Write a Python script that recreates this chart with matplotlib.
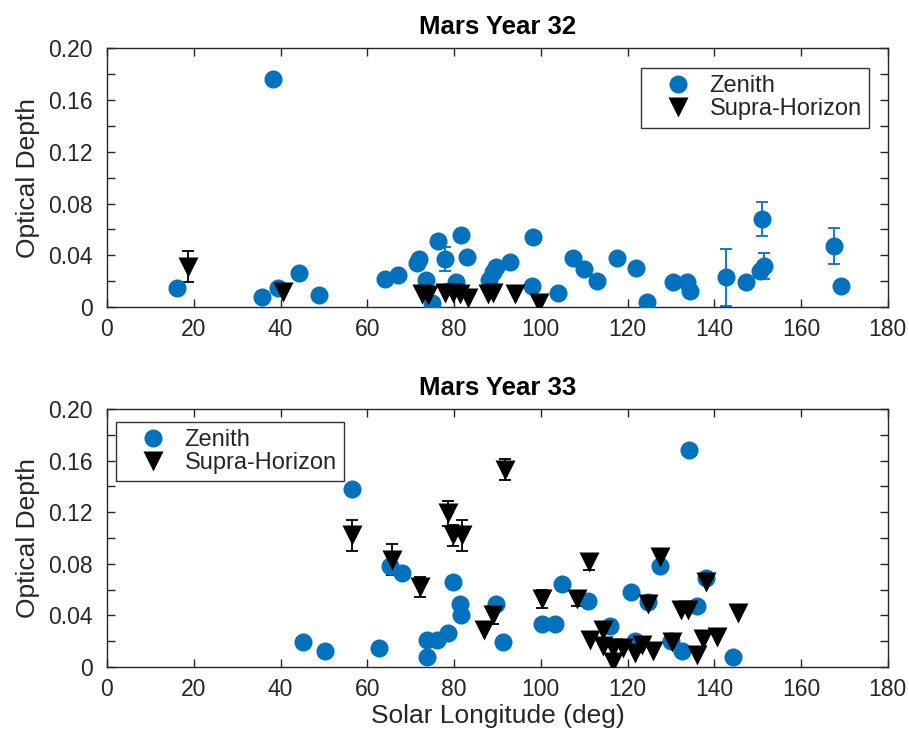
import numpy as np
import matplotlib
matplotlib.use("Agg")
import matplotlib.pyplot as plt
from matplotlib.ticker import MultipleLocator

plt.rcParams['font.family'] = ['Liberation Sans', 'DejaVu Sans']

# Mars Year 32
z32_ls = [16.1, 35.7, 38.2, 39.5, 44.3, 48.9, 64.0, 67.0, 71.4, 72.0, 73.6, 75.0,
          76.2, 77.9, 80.4, 81.5, 82.9, 88.0, 88.9, 89.6, 92.9, 98.2, 98.0, 104.0,
          107.4, 110.0, 112.9, 117.5, 122.0, 124.4, 130.4, 133.6, 134.4, 142.8,
          147.4, 150.9, 150.6, 151.4, 167.7, 169.2]
z32_tau = [0.015, 0.008, 0.176, 0.015, 0.026, 0.0095, 0.022, 0.025, 0.034, 0.037,
           0.021, 0.003, 0.051, 0.037, 0.019, 0.056, 0.039, 0.021, 0.027, 0.031,
           0.035, 0.054, 0.016, 0.011, 0.038, 0.029, 0.020, 0.038, 0.030, 0.004,
           0.019, 0.019, 0.012, 0.023, 0.019, 0.068, 0.028, 0.032, 0.047, 0.016]
z32_err = [0, 0, 0, 0, 0, 0, 0, 0, 0, 0, 0, 0, 0, 0.0095, 0, 0, 0, 0, 0, 0,
           0, 0, 0, 0, 0, 0, 0, 0, 0, 0, 0, 0, 0, 0.022, 0, 0.013, 0, 0.010, 0.014, 0]

s32_ls = [18.6, 40.6, 72.6, 74.0, 77.9, 79.8, 81.3, 83.2, 87.8, 89.0, 94.0, 99.5]
s32_tau = [0.031, 0.0115, 0.010, 0.009, 0.011, 0.011, 0.010, 0.007, 0.010, 0.011,
           0.010, 0.003]
s32_err = [0.012, 0, 0, 0, 0, 0, 0, 0, 0, 0, 0, 0]

# Mars Year 33
z33_ls = [45.2, 50.2, 56.5, 62.7, 65.2, 68.0, 73.7, 73.7, 76.0, 78.6, 79.8, 81.3,
          81.6, 89.6, 91.3, 100.2, 103.2, 105.0, 110.8, 115.9, 120.7, 121.7, 124.7,
          127.4, 130.0, 132.5, 134.1, 135.9, 138.2, 144.2]
z33_tau = [0.019, 0.012, 0.138, 0.015, 0.078, 0.073, 0.008, 0.021, 0.021, 0.026,
           0.066, 0.049, 0.040, 0.049, 0.019, 0.033, 0.033, 0.064, 0.051, 0.032,
           0.058, 0.020, 0.050, 0.078, 0.020, 0.012, 0.168, 0.047, 0.069, 0.008]

s33_ls = [56.5, 65.7, 72.1, 78.6, 79.8, 81.8, 87.0, 89.0, 91.7, 100.2, 108.3,
          111.1, 111.3, 114.3, 114.3, 116.6, 116.6, 118.9, 121.7, 123.3, 124.7,
          125.8, 127.4, 130.2, 132.3, 134.0, 135.9, 137.3, 138.2, 140.6, 145.4]
s33_tau = [0.102, 0.083, 0.062, 0.119, 0.102, 0.102, 0.029, 0.040, 0.153, 0.053,
           0.053, 0.081, 0.021, 0.029, 0.016, 0.015, 0.004, 0.015, 0.011, 0.017,
           0.049, 0.012, 0.085, 0.019, 0.044, 0.044, 0.009, 0.022, 0.066, 0.023,
           0.042]
s33_err = [0.012, 0.012, 0.008, 0.010, 0.008, 0.012, 0, 0.007, 0.008, 0.007,
           0.006, 0.006, 0, 0, 0, 0, 0, 0, 0, 0, 0, 0, 0, 0, 0, 0, 0, 0, 0, 0, 0]

ytick_labels = ['0', '0.04', '0.08', '0.12', '0.16', '0.20']

blue = '#0072BD'
grey = '#262626'

fig = plt.figure(figsize=(9.09, 7.31), dpi=100)
ax1 = fig.add_axes([0.1177, 0.580, 0.859, 0.354])
ax2 = fig.add_axes([0.1177, 0.0876, 0.859, 0.353])


def draw_errs(ax, x, y, e, color):
    x, y, e = np.array(x), np.array(y), np.array(e)
    m = e > 0
    ax.errorbar(x[m], y[m], yerr=e[m], fmt='none', ecolor=color,
                elinewidth=1.3, capsize=4.5, capthick=1.3, zorder=2)


def style(ax, title):
    ax.set_xlim(0, 180)
    ax.set_ylim(0, 0.2)
    ax.xaxis.set_major_locator(MultipleLocator(20))
    ax.yaxis.set_minor_locator(MultipleLocator(0.02))
    ax.set_yticks(np.arange(0, 0.201, 0.04))
    ax.set_yticklabels(ytick_labels)
    ax.tick_params(which='both', direction='in', top=True, right=True,
                   length=6, width=1, color=grey, labelsize=16.5,
                   labelcolor=grey)
    ax.tick_params(axis='y', pad=10)
    ax.tick_params(axis='x', pad=8)
    for sp in ax.spines.values():
        sp.set_color(grey)
        sp.set_linewidth(1)
    ax.set_ylabel('Optical Depth', fontsize=19, color=grey, labelpad=6)
    ax.set_title(title, fontsize=18.5, fontweight='bold', pad=10)


def add_legend(ax, loc, anchor):
    leg = ax.legend(loc=loc, bbox_to_anchor=anchor, fontsize=17,
                    frameon=True, fancybox=False, edgecolor='k',
                    handletextpad=0.1, borderpad=0.3, labelspacing=0.05,
                    handlelength=2.5, borderaxespad=0)
    leg.get_frame().set_linewidth(1)
    for t in leg.get_texts():
        t.set_color(grey)


# top panel
draw_errs(ax1, z32_ls, z32_tau, z32_err, blue)
ax1.plot(z32_ls, z32_tau, 'o', color=blue, ms=13, mec='none', label='Zenith', zorder=3)
draw_errs(ax1, s32_ls, s32_tau, s32_err, 'k')
ax1.plot(s32_ls, s32_tau, 'v', color='k', ms=15, mec='none', label='Supra-Horizon', zorder=4)
style(ax1, 'Mars Year 32')
add_legend(ax1, 'upper right', (0.9757, 0.923))

# bottom panel
ax2.plot(z33_ls, z33_tau, 'o', color=blue, ms=13, mec='none', label='Zenith', zorder=3)
draw_errs(ax2, s33_ls, s33_tau, s33_err, 'k')
ax2.plot(s33_ls, s33_tau, 'v', color='k', ms=15, mec='none', label='Supra-Horizon', zorder=4)
style(ax2, 'Mars Year 33')
ax2.set_xlabel('Solar Longitude (deg)', fontsize=19, color=grey, labelpad=2)
add_legend(ax2, 'upper left', (0.0115, 0.9496))

fig.savefig('out.png', dpi=100)
